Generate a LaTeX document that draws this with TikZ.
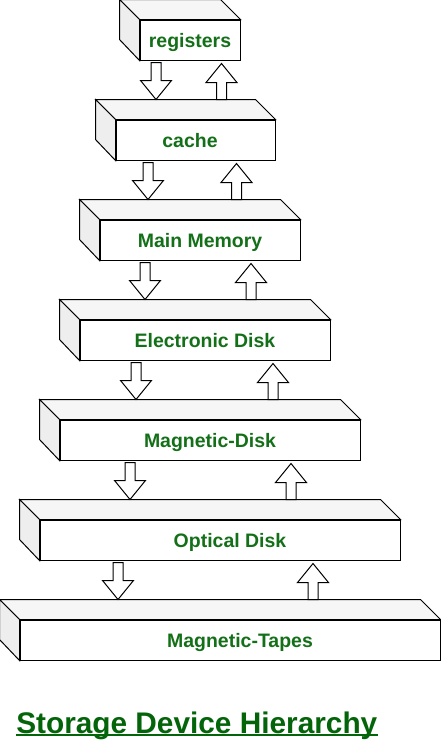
\documentclass[tikz,border=0pt]{standalone}
\usepackage{fontspec}
\setmainfont{Liberation Sans}
\usetikzlibrary{calc}
\definecolor{boxgreen}{RGB}{20,112,24}
\definecolor{titlegreen}{RGB}{4,100,10}
\begin{document}
\begin{tikzpicture}[x=0.75pt, y=-0.75pt,
  box/.style={draw=black, fill=white, line width=0.75pt, minimum height=30pt, inner sep=0pt,
    text height=11.2pt, text depth=0pt, font=\fontsize{14.6}{17}\selectfont\bfseries, text=boxgreen},
  padl/.style={execute at begin node={\hspace*{#1}}},
  padr/.style={execute at end node={\hspace*{#1}}},
  topface/.style={draw=black, fill=gray!7, line width=0.75pt},
  sideface/.style={draw=black, fill=gray!13, line width=0.75pt},
  hollow/.style={draw=black, fill=white, line width=0.75pt},
  dnblock/.style={hollow, to path={let \p1=(\tikztostart), \p2=(\tikztotarget) in
    (\x1-3.75pt,\y1) -- (\x1+3.75pt,\y1) -- (\x1+3.75pt,\y2+14.25pt) -- (\x1+11.6pt,\y2+14.25pt)
    -- (\x1,\y2) -- (\x1-11.6pt,\y2+14.25pt) -- (\x1-3.75pt,\y2+14.25pt) -- cycle}},
  upblock/.style={hollow, to path={let \p1=(\tikztostart), \p2=(\tikztotarget) in
    (\x1-3.75pt,\y1) -- (\x1-3.75pt,\y2-14.25pt) -- (\x1-11.6pt,\y2-14.25pt) -- (\x1,\y2)
    -- (\x1+11.6pt,\y2-14.25pt) -- (\x1+3.75pt,\y2-14.25pt) -- (\x1+3.75pt,\y1) -- cycle}},
  title/.style={inner sep=0pt, font=\fontsize{22.35}{26}\selectfont\bfseries, text=titlegreen}]
\useasboundingbox (0,0) rectangle (441,751);
% front faces
\node[box, minimum width=75pt] (reg) at (190,40) {registers};
\node[box, minimum width=119.25pt, padr=8.25pt] (cache) at (195.5,140) {cache};
\node[box, minimum width=150pt] (mm) at (200,240) {Main Memory};
\node[box, minimum width=187.5pt] (ed) at (205,340) {Electronic Disk};
\node[box, minimum width=225pt] (md) at (210,440) {Magnetic-Disk};
\node[box, minimum width=270pt, padl=15pt] (od) at (220,540) {Optical Disk};
\node[box, minimum width=315pt, padl=15pt] (mt) at (230,640) {Magnetic-Tapes};
% top and left faces
\draw[topface] (reg.north west) -- ++(-20,-20) -- ([shift={(-20,-20)}]reg.north east) -- (reg.north east) -- cycle;
\draw[sideface] (reg.north west) -- ++(-20,-20) -- ++(0,40) -- (reg.south west) -- cycle;
\draw[topface] (cache.north west) -- ++(-20,-20) -- ([shift={(-20,-20)}]cache.north east) -- (cache.north east) -- cycle;
\draw[sideface] (cache.north west) -- ++(-20,-20) -- ++(0,40) -- (cache.south west) -- cycle;
\draw[topface] (mm.north west) -- ++(-20,-20) -- ([shift={(-20,-20)}]mm.north east) -- (mm.north east) -- cycle;
\draw[sideface] (mm.north west) -- ++(-20,-20) -- ++(0,40) -- (mm.south west) -- cycle;
\draw[topface] (ed.north west) -- ++(-20,-20) -- ([shift={(-20,-20)}]ed.north east) -- (ed.north east) -- cycle;
\draw[sideface] (ed.north west) -- ++(-20,-20) -- ++(0,40) -- (ed.south west) -- cycle;
\draw[topface] (md.north west) -- ++(-20,-20) -- ([shift={(-20,-20)}]md.north east) -- (md.north east) -- cycle;
\draw[sideface] (md.north west) -- ++(-20,-20) -- ++(0,40) -- (md.south west) -- cycle;
\draw[topface] (od.north west) -- ++(-20,-20) -- ([shift={(-20,-20)}]od.north east) -- (od.north east) -- cycle;
\draw[sideface] (od.north west) -- ++(-20,-20) -- ++(0,40) -- (od.south west) -- cycle;
\draw[topface] (mt.north west) -- ++(-20,-20) -- ([shift={(-20,-20)}]mt.north east) -- (mt.north east) -- cycle;
\draw[sideface] (mt.north west) -- ++(-20,-20) -- ++(0,40) -- (mt.south west) -- cycle;
% arrows down and up
\draw[dnblock] ([shift={(-34,2)}]reg.south) to ([shift={(0,-20)}]cache.north);
\draw[upblock] ([shift={(26,-20)}]cache.north) to ([shift={(0,3)}]reg.south);
\draw[dnblock] ([shift={(-47.5,2)}]cache.south) to ([shift={(0,-20)}]mm.north);
\draw[upblock] ([shift={(36.5,-20)}]mm.north) to ([shift={(0,3)}]cache.south);
\draw[dnblock] ([shift={(-55,2)}]mm.south) to ([shift={(0,-20)}]ed.north);
\draw[upblock] ([shift={(46,-20)}]ed.north) to ([shift={(0,3)}]mm.south);
\draw[dnblock] ([shift={(-69,2)}]ed.south) to ([shift={(0,-20)}]md.north);
\draw[upblock] ([shift={(63,-20)}]md.north) to ([shift={(0,3)}]ed.south);
\draw[dnblock] ([shift={(-80,2)}]md.south) to ([shift={(0,-20)}]od.north);
\draw[upblock] ([shift={(71,-20)}]od.north) to ([shift={(0,3)}]md.south);
\draw[dnblock] ([shift={(-102,2)}]od.south) to ([shift={(0,-20)}]mt.north);
\draw[upblock] ([shift={(83,-20)}]mt.north) to ([shift={(0,3)}]od.south);
% title
\node[title, anchor=base west] (ttl) at (16,733) {Storage Device Hierarchy};
\draw[titlegreen, line width=1.5pt] ([yshift=-1.6pt]ttl.base west) -- ([yshift=-1.6pt]ttl.base east);
\end{tikzpicture}
\end{document}
